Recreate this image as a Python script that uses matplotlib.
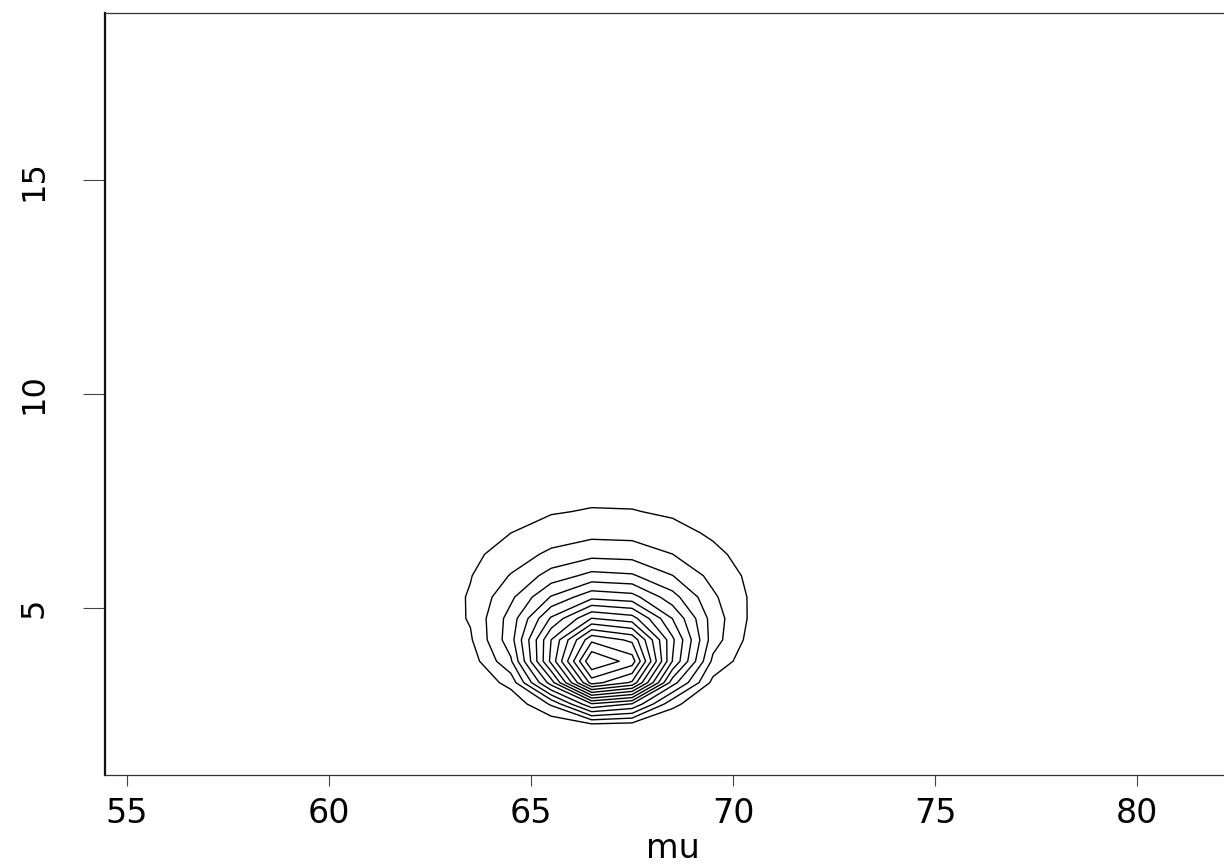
import numpy as np
import matplotlib
matplotlib.use("Agg")
import matplotlib.pyplot as plt

# Summary of the sample behind the (mu, sigma) posterior surface
n_obs = 9
y_mean = 66.85
y_sd = 3.92

# Grid on which the posterior was evaluated
mu_grid = np.arange(55.5, 81.51, 1.0)
sigma_grid = np.arange(1.75, 18.26, 0.5)

# Contour levels (fraction of the maximum)
levels = [k / 16 for k in range(1, 16)]

x_ticks = [55, 60, 65, 70, 75, 80]
y_ticks = [5, 10, 15]

MU, SIG = np.meshgrid(mu_grid, sigma_grid)
ss = (n_obs - 1) * y_sd ** 2
logpost = -n_obs * np.log(SIG) - (ss + n_obs * (MU - y_mean) ** 2) / (2 * SIG ** 2)
z = np.exp(logpost - logpost.max())

fig = plt.figure(figsize=(12.24, 8.66), dpi=100)
ax = fig.add_axes([105 / 1224, 91 / 866, 1135 / 1224, 762 / 866])
ax.contour(MU, SIG, z, levels=levels, colors="black", linewidths=1.0)

ax.set_xlim(54.46, 82.54)
ax.set_ylim(1.09, 18.91)
ax.set_xticks(x_ticks)
ax.set_yticks(y_ticks)
ax.set_xticklabels([str(t) for t in x_ticks], fontsize=24, family="DejaVu Sans")
ax.set_yticklabels([str(t) for t in y_ticks], fontsize=23, family="DejaVu Sans",
                   rotation=90, va="center")
ax.tick_params(axis="x", length=8, width=0.8, color="#444444", pad=8)
ax.tick_params(axis="y", length=16, width=0.8, color="#444444", pad=24)
ax.set_xlabel("mu", fontsize=24, labelpad=1)
for side in ["top", "right", "bottom"]:
    ax.spines[side].set_linewidth(0.9)
    ax.spines[side].set_color("#333333")
ax.spines["left"].set_linewidth(1.6)
ax.spines["left"].set_color("#111111")

fig.savefig("out.png", dpi=100)
